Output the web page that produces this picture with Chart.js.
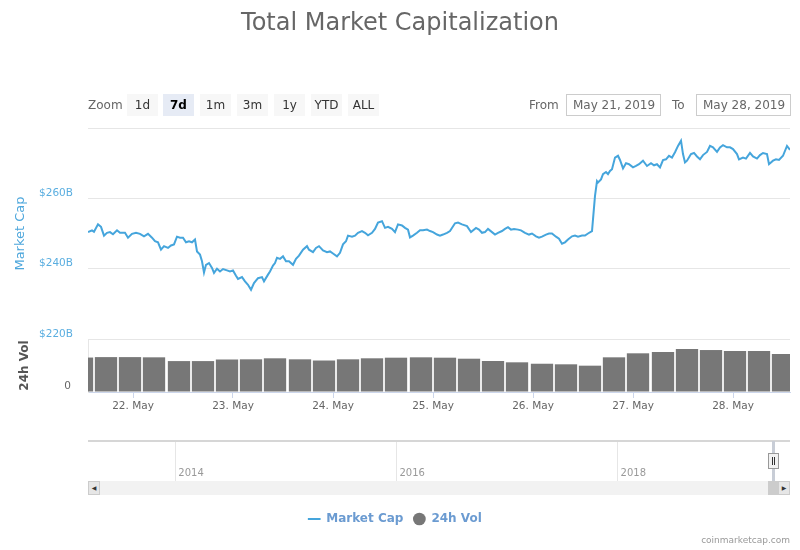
<!DOCTYPE html>
<html>
<head>
<meta charset="utf-8">
<title>Total Market Capitalization</title>
<script src="https://cdn.jsdelivr.net/npm/chart.js@4.4.1/dist/chart.umd.min.js"></script>
<style>
  body { margin: 0; background: #fff; font-family: "DejaVu Sans", sans-serif; }
  #wrap { position: relative; width: 800px; height: 550px; overflow: hidden; }
  #main { position: absolute; left: 0; top: 0; }
  #nav { position: absolute; left: 0; top: 430px; }
  .title { position: absolute; left: 0; top: 8px; width: 800px; text-align: center;
           font-size: 24px; line-height: 28px; color: #666; }
  .lbl { position: absolute; top: 94px; height: 22px; line-height: 22px; font-size: 12px; color: #666; }
  .btn { position: absolute; top: 94px; width: 31px; height: 22px; line-height: 22px; text-align: center;
         font-size: 12px; color: #333; background: #f7f7f7; }
  .btn.on { background: #e6ebf5; font-weight: bold; color: #000; }
  .date { position: absolute; top: 94px; width: 87px; height: 20px; line-height: 20px; border: 1px solid #ccc;
          font-size: 12px; color: #666; padding-left: 6px; box-sizing: content-box; }
  .scroll { position: absolute; left: 88px; top: 481px; width: 702px; height: 14px; background: #f2f2f2; }
  .sbtn { position: absolute; top: 481px; width: 10px; height: 12px; background: #e6e6e6; border: 1px solid #ccc;
          font-size: 6px; line-height: 12px; text-align: center; color: #333; }
  .thumb { position: absolute; left: 768px; top: 481px; width: 10px; height: 14px; background: #ccc; }
  .mask { position: absolute; left: 772px; top: 441px; width: 3px; height: 40px; background: #c8cdd6; }
  .handle { position: absolute; left: 768px; top: 453px; width: 9px; height: 14px; background: #f2f2f2;
            border: 1px solid #999; }
  .handle i { position: absolute; top: 3px; width: 1px; height: 8px; background: #333; }
  .credits { position: absolute; right: 10px; top: 535px; font-size: 9px; color: #999; }
</style>
</head>
<body>
<div id="wrap">
  <canvas id="main" width="800" height="550"></canvas>
  <canvas id="nav" width="800" height="60"></canvas>

  <div class="title">Total Market Capitalization</div>

  <div class="lbl" style="left:88px">Zoom</div>
  <div class="btn" style="left:127px">1d</div>
  <div class="btn on" style="left:163px">7d</div>
  <div class="btn" style="left:200px">1m</div>
  <div class="btn" style="left:237px">3m</div>
  <div class="btn" style="left:274px">1y</div>
  <div class="btn" style="left:311px">YTD</div>
  <div class="btn" style="left:348px">ALL</div>

  <div class="lbl" style="left:529px">From</div>
  <div class="date" style="left:566px">May 21, 2019</div>
  <div class="lbl" style="left:672px">To</div>
  <div class="date" style="left:696px">May 28, 2019</div>

  <div class="scroll"></div>
  <div class="thumb"></div>
  <div class="sbtn" style="left:88px">&#9664;</div>
  <div class="sbtn" style="left:778px">&#9654;</div>
  <div class="mask"></div>
  <div class="handle"><i style="left:3px"></i><i style="left:5px"></i></div>

  <div class="credits">coinmarketcap.com</div>
</div>

<script>
// x positions are days counted from 21 May 2019 00:00 (1 = 22 May)
const capDays = [
  0.55, 0.59, 0.61, 0.65, 0.68, 0.71, 0.74, 0.77, 0.80, 0.84, 0.87, 0.92, 0.95, 0.99,
  1.03, 1.07, 1.11, 1.15, 1.19, 1.22, 1.25, 1.28, 1.31, 1.35, 1.38, 1.41, 1.44, 1.47,
  1.50, 1.53, 1.56, 1.59, 1.62, 1.64, 1.67, 1.69, 1.71, 1.73, 1.76, 1.79, 1.81, 1.84,
  1.87, 1.90, 1.94, 1.97, 2.00, 2.03, 2.05, 2.09, 2.12, 2.15, 2.18, 2.21, 2.25, 2.29,
  2.31, 2.35, 2.37, 2.40, 2.42, 2.44, 2.47, 2.50, 2.53, 2.56, 2.60, 2.63, 2.66, 2.70,
  2.74, 2.76, 2.80, 2.83, 2.86, 2.90, 2.94, 2.97, 3.00, 3.04, 3.07, 3.10, 3.13, 3.15,
  3.19, 3.22, 3.25, 3.29, 3.32, 3.35, 3.39, 3.42, 3.45, 3.49, 3.52, 3.55, 3.59, 3.62,
  3.65, 3.69, 3.72, 3.75, 3.77, 3.80, 3.84, 3.87, 3.90, 3.94, 3.97, 4.00, 4.04, 4.07,
  4.10, 4.14, 4.17, 4.22, 4.25, 4.29, 4.34, 4.38, 4.43, 4.46, 4.49, 4.52, 4.55, 4.59,
  4.62, 4.65, 4.69, 4.72, 4.75, 4.78, 4.81, 4.85, 4.88, 4.92, 4.96, 4.99, 5.03, 5.06,
  5.09, 5.13, 5.16, 5.19, 5.23, 5.26, 5.29, 5.32, 5.35, 5.39, 5.42, 5.45, 5.49, 5.52,
  5.55, 5.59, 5.60, 5.62, 5.64, 5.65, 5.68, 5.70, 5.73, 5.75, 5.77, 5.79, 5.82, 5.85,
  5.87, 5.90, 5.93, 5.96, 6.00, 6.03, 6.06, 6.10, 6.14, 6.18, 6.21, 6.24, 6.27, 6.30,
  6.33, 6.36, 6.39, 6.42, 6.45, 6.48, 6.50, 6.52, 6.54, 6.58, 6.61, 6.64, 6.67, 6.70,
  6.74, 6.77, 6.80, 6.84, 6.87, 6.90, 6.94, 6.97, 7.00, 7.04, 7.06, 7.10, 7.13, 7.17,
  7.20, 7.24, 7.27, 7.30, 7.34, 7.36, 7.40, 7.43, 7.46, 7.50, 7.54, 7.57
];
// total market cap, billions of USD
const capValues = [
  250.4, 250.9, 250.5, 252.6, 251.9, 249.4, 250.2, 250.4, 249.8, 250.9, 250.2, 250.2, 248.8, 249.9,
  250.2, 249.9, 249.2, 249.9, 248.8, 247.8, 247.5, 245.4, 246.4, 245.9, 246.6, 246.9, 249.1, 248.8,
  248.8, 247.5, 247.8, 247.5, 248.3, 244.9, 244.0, 242.1, 238.9, 241.1, 241.6, 240.2, 238.8, 240.0,
  239.2, 239.9, 239.5, 239.2, 239.5, 238.0, 237.1, 237.6, 236.4, 235.4, 234.0, 235.9, 237.3, 237.6,
  236.4, 238.3, 239.2, 240.9, 241.6, 243.1, 242.8, 243.5, 242.1, 242.1, 241.1, 242.8, 243.7, 245.4,
  246.4, 245.4, 244.7, 245.9, 246.4, 245.2, 244.7, 244.9, 244.3, 243.5, 244.5, 246.9, 247.8, 249.4,
  249.1, 249.4, 250.2, 250.7, 250.2, 249.5, 250.2, 251.3, 253.1, 253.5, 251.6, 251.9, 251.3, 250.4,
  252.6, 252.3, 251.6, 251.1, 248.9, 249.4, 250.2, 250.9, 250.9, 251.1, 250.7, 250.4, 249.7, 249.4,
  249.7, 250.2, 250.7, 252.9, 253.1, 252.6, 252.1, 250.4, 251.6, 251.1, 250.2, 250.4, 251.3, 250.4,
  249.7, 250.2, 250.7, 251.3, 251.8, 251.1, 251.3, 251.1, 250.9, 250.2, 249.7, 250.0, 249.2, 248.8,
  249.1, 249.7, 250.0, 250.0, 249.1, 248.5, 247.1, 247.5, 248.3, 249.2, 249.4, 249.1, 249.4, 249.4,
  250.0, 250.7, 254.0, 260.7, 264.9, 264.5, 265.4, 266.9, 267.5, 266.9, 267.8, 268.3, 271.6, 272.1,
  270.9, 268.5, 270.0, 269.7, 268.8, 269.2, 269.7, 270.7, 269.2, 270.0, 269.4, 269.7, 268.8, 270.9,
  271.1, 272.1, 271.6, 273.1, 274.9, 276.4, 272.6, 270.2, 270.7, 272.6, 272.9, 271.9, 271.1, 272.3,
  273.2, 274.9, 274.5, 273.2, 274.5, 275.1, 274.5, 274.5, 274.0, 272.6, 271.1, 271.6, 271.3, 272.9,
  271.9, 271.3, 272.3, 272.9, 272.6, 269.7, 270.7, 271.1, 270.9, 272.1, 274.9, 273.8
];
const volDays = [
  0.49, 0.73, 0.97, 1.21, 1.46, 1.70, 1.94, 2.18, 2.42, 2.67, 2.91, 3.15, 3.39, 3.63, 3.88, 4.12,
  4.36, 4.60, 4.84, 5.09, 5.33, 5.57, 5.81, 6.05, 6.30, 6.54, 6.78, 7.02, 7.26, 7.50, 7.75
];
// 24h volume, billions of USD
const volValues = [
  78, 79, 79, 78.5, 70, 70, 73.6, 74, 76.3, 74, 71.3, 74, 76.3, 77.7, 78.5, 77.7,
  75.4, 70.2, 67.2, 64, 62.7, 59.6, 78.5, 87.6, 90.6, 97.4, 95, 92.8, 92.8, 86, 86
];
const dayTicks = [1, 2, 3, 4, 5, 6, 7];
const dayLabels = ['22. May', '23. May', '24. May', '25. May', '26. May', '27. May', '28. May'];
const capTicks = [220, 240, 260, 280];
const navYears = [2014, 2016, 2018];

Chart.defaults.font.family = '"DejaVu Sans", sans-serif';
Chart.defaults.animation = false;

const capColor = '#45a5dc';
const volColor = '#777777';

new Chart(document.getElementById('main'), {
  type: 'line',
  data: {
    datasets: [{
      label: 'Market Cap',
      data: capDays.map((d, i) => ({ x: d, y: capValues[i] })),
      yAxisID: 'y',
      borderColor: capColor,
      backgroundColor: capColor,
      borderWidth: 2,
      pointRadius: 0,
      pointStyle: 'line',
      tension: 0
    }, {
      type: 'bar',
      label: '24h Vol',
      data: volDays.map((d, i) => ({ x: d, y: volValues[i] })),
      yAxisID: 'yVol',
      backgroundColor: volColor,
      borderWidth: 0,
      pointStyle: 'circle',
      barPercentage: 1,
      categoryPercentage: 0.93
    }]
  },
  options: {
    responsive: false,
    layout: { padding: { top: 128, left: 0, right: 10, bottom: 15 } },
    plugins: {
      tooltip: { enabled: false },
      legend: {
        position: 'bottom',
        labels: {
          usePointStyle: true,
          boxHeight: 9,
          padding: 10,
          color: '#6b9bd1',
          font: { size: 12, weight: 'bold' }
        }
      }
    },
    scales: {
      x: {
        type: 'linear',
        min: 0.55,
        max: 7.57,
        offset: false,
        afterBuildTicks: (s) => { s.ticks = dayTicks.map(v => ({ value: v })); },
        afterFit: (s) => { s.height = 111; },
        ticks: {
          color: '#666',
          font: { size: 10.5 },
          padding: 2,
          maxRotation: 0,
          callback: (v) => dayLabels[dayTicks.indexOf(v)]
        },
        grid: { offset: false, drawOnChartArea: false, drawTicks: true, tickLength: 6, color: '#ccd6eb' },
        border: { display: true, color: '#ccd6eb' }
      },
      yVol: {
        type: 'linear',
        position: 'left',
        stack: 'panes',
        stackWeight: 53,
        min: 0,
        max: 120,
        afterBuildTicks: (s) => { s.ticks = [{ value: 0 }]; },
        afterFit: (s) => { s.width = 88; },
        ticks: {
          color: '#666',
          font: { size: 10.5 },
          padding: 17,
          labelOffset: -6,
          callback: () => '0'
        },
        grid: { color: '#e6e6e6', drawTicks: false },
        border: { display: true, color: '#e6e6e6' },
        title: {
          display: true,
          text: '24h Vol',
          color: '#555',
          font: { size: 12, weight: 'bold' },
          padding: { top: 18, bottom: 0 }
        }
      },
      y: {
        type: 'linear',
        position: 'left',
        stack: 'panes',
        stackWeight: 211,
        min: 220,
        max: 280,
        afterBuildTicks: (s) => { s.ticks = capTicks.map(v => ({ value: v })); },
        afterFit: (s) => { s.width = 88; },
        ticks: {
          color: '#5aaee0',
          font: { size: 10.5 },
          padding: 15,
          labelOffset: -5,
          callback: (v) => v === 280 ? '' : '$' + v + 'B'
        },
        grid: { color: '#e6e6e6', drawTicks: false },
        border: { display: false },
        title: {
          display: true,
          text: 'Market Cap',
          color: '#4ea7dc',
          font: { size: 13 },
          padding: { top: 13, bottom: 0 }
        }
      }
    }
  }
});

// navigator strip under the chart, whole history in years
new Chart(document.getElementById('nav'), {
  type: 'line',
  data: { datasets: [] },
  options: {
    responsive: false,
    layout: { padding: { top: 11, left: 88, right: 10, bottom: 0 } },
    plugins: { legend: { display: false }, tooltip: { enabled: false } },
    scales: {
      x: {
        type: 'linear',
        min: 2013.21,
        max: 2019.56,
        afterBuildTicks: (s) => { s.ticks = navYears.map(v => ({ value: v })); },
        afterFit: (s) => { s.height = 9; },
        ticks: {
          color: '#999',
          font: { size: 10 },
          align: 'start',
          mirror: true,
          labelOffset: 3,
          padding: 2,
          maxRotation: 0,
          callback: (v) => String(v)
        },
        grid: { color: '#e6e6e6', drawTicks: false },
        border: { display: false }
      },
      y: {
        type: 'linear',
        min: 0,
        max: 1,
        afterBuildTicks: (s) => { s.ticks = [{ value: 1 }]; },
        afterFit: (s) => { s.width = 0; },
        ticks: { display: false },
        grid: { color: '#d6d6d6', lineWidth: 2, drawTicks: false },
        border: { display: false }
      }
    }
  }
});
</script>
</body>
</html>
